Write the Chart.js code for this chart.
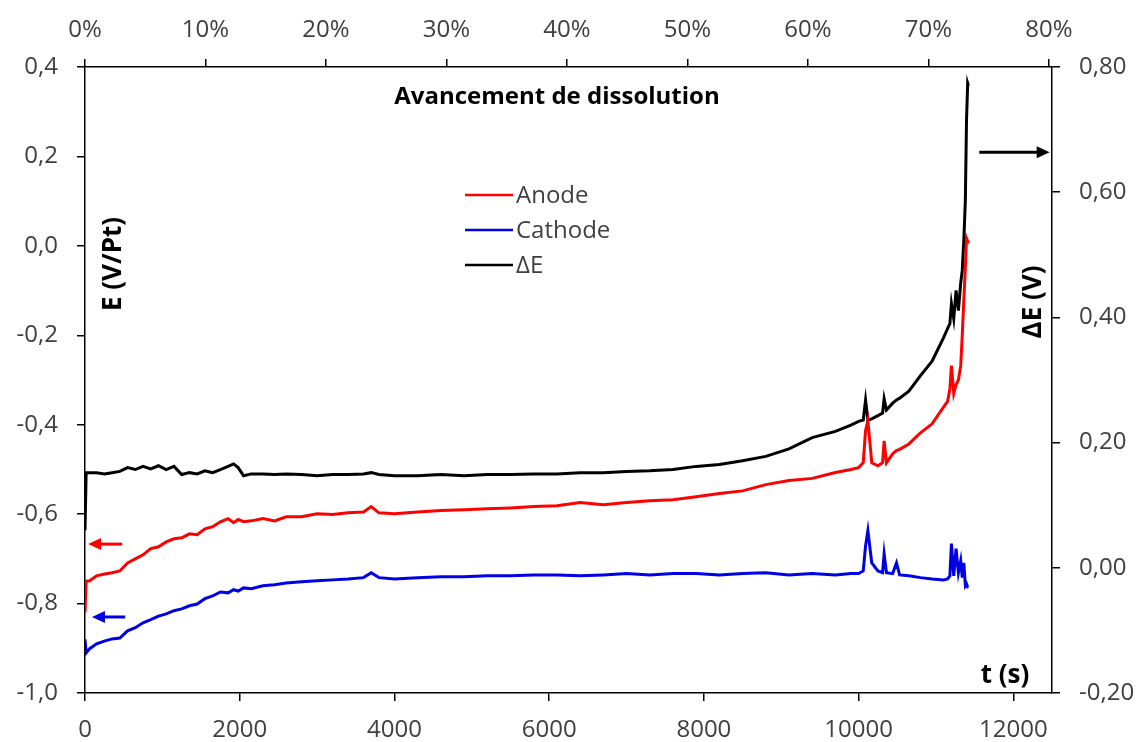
<!DOCTYPE html>
<html>
<head>
<meta charset="utf-8">
<script src="https://cdn.jsdelivr.net/npm/chart.js@4.4.1/dist/chart.umd.min.js"></script>
<style>
  html, body { margin: 0; padding: 0; background: #fff; }
  #wrap { width: 1141px; height: 742px; }
</style>
</head>
<body>
<div id="wrap"><canvas id="chart" width="1141" height="742"></canvas></div>
<script>
/* Potentiels anode / cathode et ΔE pendant la dissolution */

// temps (s)
const timeS = [
  0, 15, 60, 150, 250, 350, 450, 550, 650, 750,
  850, 950, 1050, 1150, 1250, 1350, 1450, 1550, 1650, 1750,
  1850, 1920, 1980, 2050, 2150, 2300, 2450, 2600, 2800, 3000,
  3200, 3400, 3600, 3700, 3800, 4000, 4300, 4600, 4900, 5200,
  5500, 5800, 6100, 6400, 6700, 7000, 7300, 7600, 7900, 8200,
  8500, 8800, 9100, 9400, 9700, 9900, 10000, 10060, 10090, 10120,
  10170, 10250, 10310, 10330, 10360, 10440, 10490, 10530, 10650, 10800,
  10950, 11100, 11150, 11180, 11200, 11230, 11260, 11290, 11320, 11340,
  11360, 11380, 11395, 11410, 11420
];

// E anode (V/Pt)
const anodeE = [
  -0.820, -0.750, -0.749, -0.738, -0.734, -0.731, -0.727, -0.709, -0.700, -0.691,
  -0.677, -0.673, -0.662, -0.655, -0.653, -0.644, -0.646, -0.633, -0.628, -0.617,
  -0.610, -0.619, -0.612, -0.617, -0.615, -0.610, -0.615, -0.606, -0.606, -0.599,
  -0.601, -0.597, -0.595, -0.583, -0.597, -0.599, -0.595, -0.592, -0.590, -0.588,
  -0.586, -0.583, -0.581, -0.574, -0.579, -0.574, -0.570, -0.568, -0.561, -0.554,
  -0.548, -0.534, -0.525, -0.520, -0.507, -0.500, -0.496, -0.485, -0.413, -0.391,
  -0.485, -0.492, -0.485, -0.436, -0.485, -0.465, -0.458, -0.455, -0.443, -0.418,
  -0.398, -0.360, -0.348, -0.320, -0.268, -0.330, -0.310, -0.300, -0.268, -0.200,
  -0.122, -0.048, 0.017, 0.010, 0.005
];

// E cathode (V/Pt)
const cathodeE = [
  -0.880, -0.910, -0.901, -0.890, -0.884, -0.879, -0.877, -0.861, -0.854, -0.843,
  -0.836, -0.828, -0.823, -0.816, -0.812, -0.805, -0.801, -0.789, -0.783, -0.774,
  -0.776, -0.769, -0.772, -0.765, -0.767, -0.760, -0.758, -0.754, -0.751, -0.749,
  -0.747, -0.745, -0.742, -0.731, -0.742, -0.745, -0.742, -0.740, -0.740, -0.738,
  -0.738, -0.736, -0.736, -0.738, -0.736, -0.733, -0.736, -0.733, -0.733, -0.736,
  -0.733, -0.731, -0.736, -0.733, -0.736, -0.733, -0.733, -0.727, -0.671, -0.637,
  -0.709, -0.727, -0.731, -0.689, -0.731, -0.733, -0.709, -0.736, -0.738, -0.742,
  -0.745, -0.747, -0.745, -0.738, -0.666, -0.738, -0.677, -0.731, -0.704, -0.742,
  -0.709, -0.760, -0.756, -0.763, -0.763
];

// ΔE (V)
const deltaE = [
  0.060, 0.152, 0.152, 0.152, 0.150, 0.152, 0.154, 0.160, 0.157, 0.162,
  0.158, 0.163, 0.157, 0.162, 0.149, 0.152, 0.150, 0.155, 0.152, 0.157,
  0.162, 0.166, 0.160, 0.147, 0.150, 0.150, 0.149, 0.150, 0.149, 0.147,
  0.149, 0.149, 0.150, 0.152, 0.149, 0.147, 0.147, 0.149, 0.147, 0.149,
  0.149, 0.150, 0.150, 0.152, 0.152, 0.154, 0.155, 0.157, 0.162, 0.165,
  0.171, 0.178, 0.190, 0.208, 0.218, 0.228, 0.234, 0.236, 0.268, 0.236,
  0.238, 0.243, 0.247, 0.270, 0.252, 0.263, 0.268, 0.271, 0.282, 0.307,
  0.330, 0.368, 0.382, 0.390, 0.422, 0.398, 0.443, 0.411, 0.455, 0.475,
  0.523, 0.587, 0.715, 0.774, 0.770
];

// graduations
const timeTicks = [0, 2000, 4000, 6000, 8000, 10000, 12000];
const pctTicks = [0, 10, 20, 30, 40, 50, 60, 70, 80];
const eTicks = [-1.0, -0.8, -0.6, -0.4, -0.2, 0.0, 0.2, 0.4];
const dETicks = [-0.2, 0.0, 0.2, 0.4, 0.6, 0.8];

const RED = '#ff0000';
const BLUE = '#0000e6';
const BLACK = '#000000';
const LABEL = '#404040';

Chart.defaults.font.family = "'Open Sans', sans-serif";

function fr(v, d) {
  if (Math.abs(v) < 1e-9) v = 0;
  return v.toFixed(d).replace('.', ',');
}

function pts(vals) {
  return timeS.map((t, i) => ({ x: t, y: vals[i] }));
}

function setTicks(list) {
  return (scale) => { scale.ticks = list.map(v => ({ value: v })); };
}

const axisGrid = { drawOnChartArea: false, drawTicks: true, tickLength: 8, color: '#000', lineWidth: 1.5 };
const axisBorder = { display: true, color: '#000', width: 1.5 };
const tickFont = { size: 24 };

function arrow(ctx, x1, x2, y, color) {
  // ligne de x1 vers x2, pointe en x2
  const dir = x2 > x1 ? 1 : -1;
  ctx.save();
  ctx.strokeStyle = color;
  ctx.fillStyle = color;
  ctx.lineWidth = 3;
  ctx.beginPath();
  ctx.moveTo(x1, y);
  ctx.lineTo(x2 - dir * 10, y);
  ctx.stroke();
  ctx.beginPath();
  ctx.moveTo(x2, y);
  ctx.lineTo(x2 - dir * 13, y - 6);
  ctx.lineTo(x2 - dir * 13, y + 6);
  ctx.closePath();
  ctx.fill();
  ctx.restore();
}

const annotations = {
  id: 'annotations',
  afterDraw(chart) {
    const { ctx, chartArea: ca, scales } = chart;
    const xs = scales.x, yl = scales.y, yr = scales.y2;

    ctx.save();
    ctx.fillStyle = BLACK;
    ctx.textAlign = 'center';
    ctx.textBaseline = 'middle';

    // titre de l'axe du haut
    ctx.font = "bold 24px 'Open Sans', sans-serif";
    ctx.fillText('Avancement de dissolution', ca.left + 472, ca.top + 30);

    // titres des axes
    ctx.font = "bold 26px 'Open Sans', sans-serif";
    ctx.fillText('t (s)', ca.left + 920, ca.bottom - 17);

    ctx.save();
    ctx.translate(ca.left + 29, ca.top + 197);
    ctx.rotate(-Math.PI / 2);
    ctx.fillText('E (V/Pt)', 0, 0);
    ctx.restore();

    ctx.save();
    ctx.translate(ca.right - 18, ca.top + 235);
    ctx.rotate(-Math.PI / 2);
    ctx.fillText('ΔE (V)', 0, 0);
    ctx.restore();

    // légende
    ctx.font = "24px 'Open Sans', sans-serif";
    ctx.textAlign = 'left';
    const lx = ca.left + 380;
    chart.data.datasets.forEach((ds, i) => {
      const y = ca.top + 128 + i * 35;
      ctx.strokeStyle = ds.borderColor;
      ctx.lineWidth = 2.5;
      ctx.beginPath();
      ctx.moveTo(lx, y);
      ctx.lineTo(lx + 48, y);
      ctx.stroke();
      ctx.fillStyle = LABEL;
      ctx.fillText(ds.label, lx + 51, y + 1);
    });
    ctx.restore();

    // flèches vers les axes
    arrow(ctx, xs.getPixelForValue(480), xs.getPixelForValue(40), yl.getPixelForValue(-0.667), RED);
    arrow(ctx, xs.getPixelForValue(520), xs.getPixelForValue(90), yl.getPixelForValue(-0.83), BLUE);
    arrow(ctx, xs.getPixelForValue(11560), xs.getPixelForValue(12470), yr.getPixelForValue(0.664), BLACK);
  }
};

new Chart(document.getElementById('chart'), {
  type: 'line',
  data: {
    datasets: [
      { label: 'Anode', data: pts(anodeE), borderColor: RED, backgroundColor: RED, yAxisID: 'y', xAxisID: 'x' },
      { label: 'Cathode', data: pts(cathodeE), borderColor: BLUE, backgroundColor: BLUE, yAxisID: 'y', xAxisID: 'x' },
      { label: 'ΔE', data: pts(deltaE), borderColor: BLACK, backgroundColor: BLACK, yAxisID: 'y2', xAxisID: 'x' }
    ]
  },
  options: {
    responsive: false,
    animation: false,
    layout: { padding: 0 },
    elements: {
      point: { radius: 0 },
      line: { borderWidth: 3, tension: 0 }
    },
    plugins: {
      legend: { display: false },
      tooltip: { enabled: false }
    },
    scales: {
      x: {
        type: 'linear', position: 'bottom', min: 0, max: 12500,
        afterBuildTicks: setTicks(timeTicks),
        afterFit: (s) => { s.height = 49; },
        ticks: { color: LABEL, font: tickFont, padding: 15, maxRotation: 0, autoSkip: false, callback: v => String(v) },
        grid: axisGrid, border: axisBorder
      },
      x2: {
        type: 'linear', position: 'top', display: true, min: 0, max: 80.25,
        afterBuildTicks: setTicks(pctTicks),
        afterFit: (s) => { s.height = 67; },
        ticks: { color: LABEL, font: tickFont, padding: 14, maxRotation: 0, autoSkip: false, callback: v => v + '%' },
        grid: axisGrid, border: axisBorder
      },
      y: {
        type: 'linear', position: 'left', min: -1.0, max: 0.4,
        afterBuildTicks: setTicks(eTicks),
        afterFit: (s) => { s.width = 85; },
        ticks: { color: LABEL, font: tickFont, padding: 19, callback: v => fr(v, 1) },
        grid: axisGrid, border: axisBorder
      },
      y2: {
        type: 'linear', position: 'right', min: -0.2, max: 0.8,
        afterBuildTicks: setTicks(dETicks),
        afterFit: (s) => { s.width = 89; },
        ticks: { color: LABEL, font: tickFont, padding: 19, callback: v => fr(v, 2) },
        grid: axisGrid, border: axisBorder
      }
    }
  },
  plugins: [annotations]
});
</script>
</body>
</html>
